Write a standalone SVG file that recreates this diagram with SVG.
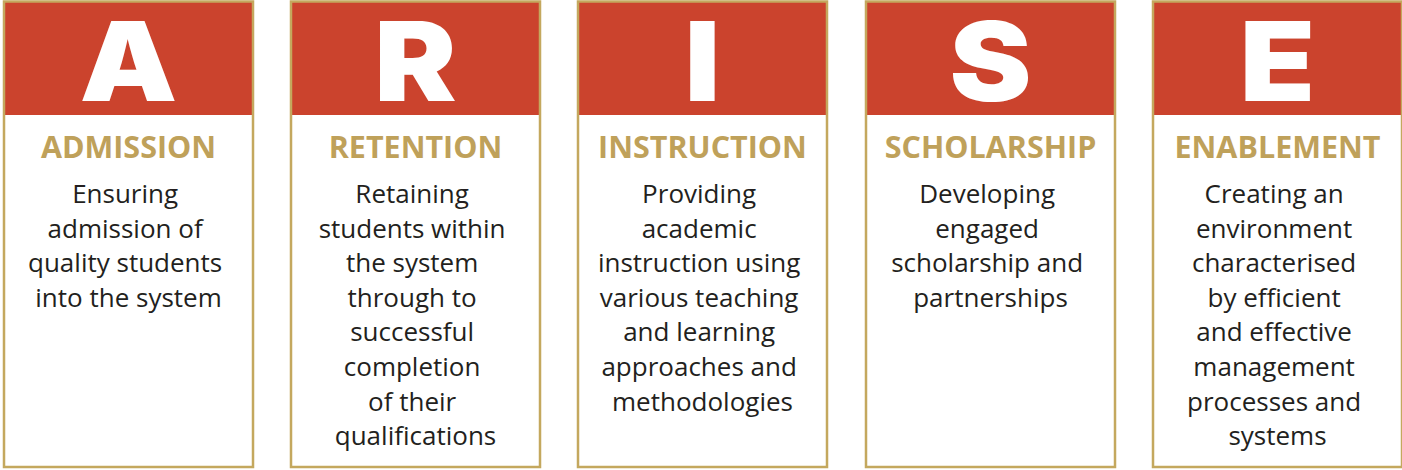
<svg xmlns="http://www.w3.org/2000/svg" width="1402" height="470" viewBox="0 0 1402 470">
  <style>
    .frame { fill: none; stroke: #C4A85E; stroke-width: 2.5; }
    .band { fill: #CB432D; }
    .letter { font-family: "Inter", "Roboto", "Liberation Sans", sans-serif; font-weight: 900; font-size: 110px; fill: #FFFFFF; text-anchor: middle; }
    .title { font-family: "Open Sans", "Liberation Sans", sans-serif; font-weight: 700; font-size: 30.5px; fill: #BFA15A; text-anchor: middle; }
    .body { font-family: "Open Sans", "Liberation Sans", sans-serif; font-weight: 400; font-size: 26px; fill: #231F20; text-anchor: middle; }
  </style>
  <rect width="1402" height="470" fill="#FFFFFF"/>

  <!-- A: Admission -->
  <g id="card-admission">
    <rect class="band" x="4" y="1.5" width="249" height="113.5"/>
    <rect class="frame" x="4" y="1.5" width="249" height="465.5"/>
    <text class="letter" transform="translate(128.5,101) scale(1.12,1)">A</text>
    <text class="title" x="128.5" y="158">ADMISSION</text>
    <text class="body" x="128.5" y="203">
      <tspan x="128.5" y="203">Ensuring</tspan>
      <tspan x="128.5" y="237.6">admission of</tspan>
      <tspan x="128.5" y="272.2">quality students</tspan>
      <tspan x="128.5" y="306.8">into the system</tspan>
    </text>
  </g>

  <!-- R: Retention -->
  <g id="card-retention">
    <rect class="band" x="291" y="1.5" width="249" height="113.5"/>
    <rect class="frame" x="291" y="1.5" width="249" height="465.5"/>
    <text class="letter" transform="translate(415.5,101) scale(1.12,1)">R</text>
    <text class="title" x="415.5" y="158">RETENTION</text>
    <text class="body" x="415.5" y="203">
      <tspan x="415.5" y="203">Retaining</tspan>
      <tspan x="415.5" y="237.6">students within</tspan>
      <tspan x="415.5" y="272.2">the system</tspan>
      <tspan x="415.5" y="306.8">through to</tspan>
      <tspan x="415.5" y="341.4">successful</tspan>
      <tspan x="415.5" y="376">completion</tspan>
      <tspan x="415.5" y="410.6">of their</tspan>
      <tspan x="415.5" y="445.2">qualifications</tspan>
    </text>
  </g>

  <!-- I: Instruction -->
  <g id="card-instruction">
    <rect class="band" x="578" y="1.5" width="249" height="113.5"/>
    <rect class="frame" x="578" y="1.5" width="249" height="465.5"/>
    <text class="letter" transform="translate(702.5,101) scale(1.12,1)">I</text>
    <text class="title" x="702.5" y="158">INSTRUCTION</text>
    <text class="body" x="702.5" y="203">
      <tspan x="702.5" y="203">Providing</tspan>
      <tspan x="702.5" y="237.6">academic</tspan>
      <tspan x="702.5" y="272.2">instruction using</tspan>
      <tspan x="702.5" y="306.8">various teaching</tspan>
      <tspan x="702.5" y="341.4">and learning</tspan>
      <tspan x="702.5" y="376">approaches and</tspan>
      <tspan x="702.5" y="410.6">methodologies</tspan>
    </text>
  </g>

  <!-- S: Scholarship -->
  <g id="card-scholarship">
    <rect class="band" x="866" y="1.5" width="249" height="113.5"/>
    <rect class="frame" x="866" y="1.5" width="249" height="465.5"/>
    <text class="letter" transform="translate(990.5,101) scale(1.12,1)">S</text>
    <text class="title" x="990.5" y="158">SCHOLARSHIP</text>
    <text class="body" x="990.5" y="203">
      <tspan x="990.5" y="203">Developing</tspan>
      <tspan x="990.5" y="237.6">engaged</tspan>
      <tspan x="990.5" y="272.2">scholarship and</tspan>
      <tspan x="990.5" y="306.8">partnerships</tspan>
    </text>
  </g>

  <!-- E: Enablement -->
  <g id="card-enablement">
    <rect class="band" x="1153" y="1.5" width="249" height="113.5"/>
    <rect class="frame" x="1153" y="1.5" width="249" height="465.5"/>
    <text class="letter" transform="translate(1277.5,101) scale(1.12,1)">E</text>
    <text class="title" x="1277.5" y="158">ENABLEMENT</text>
    <text class="body" x="1277.5" y="203">
      <tspan x="1277.5" y="203">Creating an</tspan>
      <tspan x="1277.5" y="237.6">environment</tspan>
      <tspan x="1277.5" y="272.2">characterised</tspan>
      <tspan x="1277.5" y="306.8">by efficient</tspan>
      <tspan x="1277.5" y="341.4">and effective</tspan>
      <tspan x="1277.5" y="376">management</tspan>
      <tspan x="1277.5" y="410.6">processes and</tspan>
      <tspan x="1277.5" y="445.2">systems</tspan>
    </text>
  </g>

  <g id="connectors"/>
</svg>
